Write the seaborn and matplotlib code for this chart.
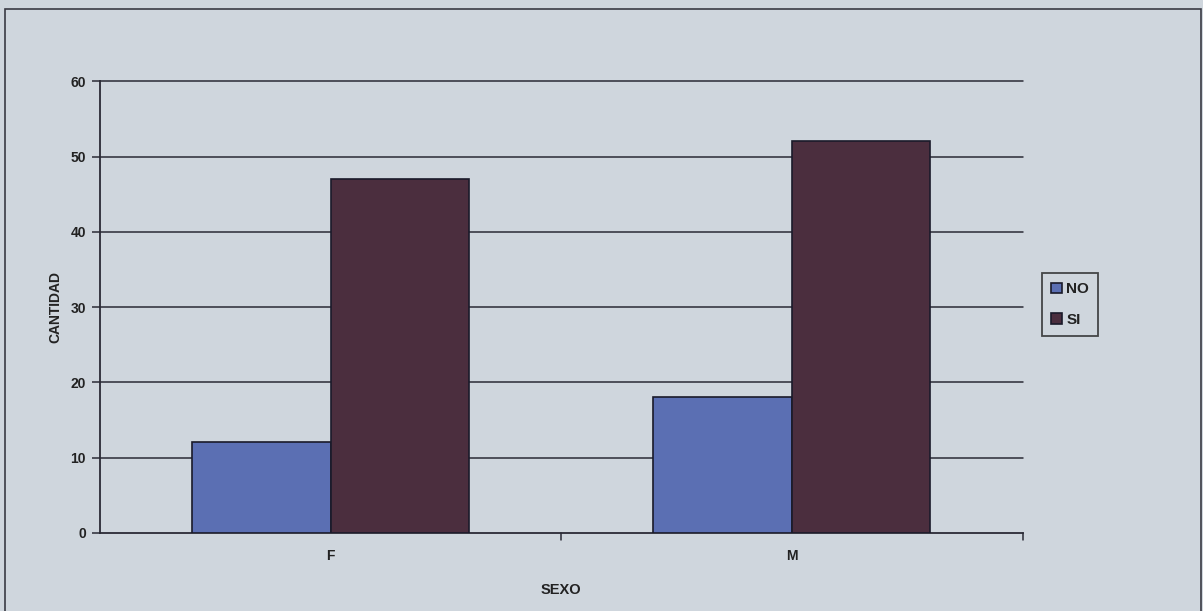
import matplotlib
matplotlib.use("Agg")
import matplotlib.pyplot as plt
import seaborn as sns
import pandas as pd
from matplotlib.patches import Rectangle

categories = ["F", "M"]
series_names = ["NO", "SI"]
no_values = [12, 18]
si_values = [47, 52]
yticks = [0, 10, 20, 30, 40, 50, 60]

df = pd.DataFrame({
    "SEXO": categories * 2,
    "serie": [series_names[0]] * 2 + [series_names[1]] * 2,
    "CANTIDAD": no_values + si_values,
})

bg = "#cfd6dd"
sns.set_theme(style="white")
plt.rcParams["font.family"] = ["Liberation Sans", "DejaVu Sans"]

fig = plt.figure(figsize=(12.03, 6.11), dpi=100, facecolor=bg)
ax = fig.add_axes([0.083, 0.128, 0.767, 0.739])
ax.set_facecolor(bg)

palette = {"NO": "#5b6fb3", "SI": "#4b2e3e"}
sns.barplot(data=df, x="SEXO", y="CANTIDAD", hue="serie", order=categories,
            hue_order=series_names, palette=palette, width=0.6, saturation=1,
            edgecolor="#1a1a2a", linewidth=1.2, ax=ax, legend=True, zorder=3)

ax.set_ylim(0, 60)
ax.set_xlim(-0.5, 1.5)
ax.set_yticks(yticks)
ax.set_yticklabels([str(t) for t in yticks], fontsize=10, fontweight="bold", color="#222")
for t in yticks[1:]:
    ax.axhline(t, color="#2a2a35", lw=1.1, zorder=1, clip_on=False)

ax.set_xticks([0, 1])
ax.set_xticklabels(categories, fontsize=10, fontweight="bold", color="#222")
ax.tick_params(axis="x", length=0, pad=12)
ax.tick_params(axis="y", length=6, direction="out", color="#2a2a35", width=1.1, left=True, pad=4)
for xb in [0.5, 1.5]:
    ax.plot([xb, xb], [0, -0.9], color="#2a2a35", lw=1.1, clip_on=False)

for s in ["top", "right"]:
    ax.spines[s].set_visible(False)
for s in ["left", "bottom"]:
    ax.spines[s].set_color("#2a2a35")
    ax.spines[s].set_linewidth(1.3)

ax.set_xlabel("SEXO", fontsize=10.5, fontweight="bold", color="#222", labelpad=14)
ax.set_ylabel("CANTIDAD", fontsize=10, fontweight="bold", color="#222", labelpad=6)

leg = ax.legend(loc="center left", bbox_to_anchor=(1.021, 0.505), frameon=True,
                borderaxespad=0,
                fontsize=11, handlelength=0.7, handleheight=0.7, handletextpad=0.3,
                borderpad=0.6, labelspacing=1.1, fancybox=False)
leg.get_frame().set_edgecolor("#222")
leg.get_frame().set_facecolor(bg)
leg.get_frame().set_linewidth(1.3)
for t in leg.get_texts():
    t.set_fontweight("bold")
    t.set_color("#222")

fig.add_artist(Rectangle((0.004, -0.05), 0.994, 1.035, transform=fig.transFigure,
                         fill=False, edgecolor="#3a3a44", lw=1.2))

fig.savefig("out.png", dpi=100, facecolor=bg)
